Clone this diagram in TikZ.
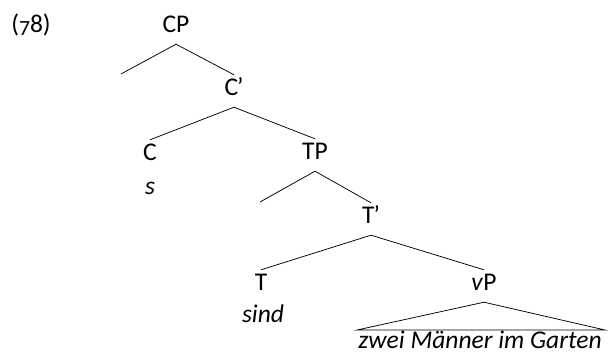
\documentclass[tikz,border=0pt]{standalone}
\usepackage{fontspec}
\setmainfont{Carlito}
\begin{document}
\begin{tikzpicture}[x=1pt,y=1pt,
  cat/.style={inner sep=0pt, minimum height=32pt, text height=0.9em, text depth=0pt, yshift=-3pt, font=\fontsize{25.5}{29}\selectfont},
  word/.style={inner sep=0pt, font=\fontsize{25.5}{29}\selectfont\itshape, text height=0.9em, text depth=0pt, yshift=-3pt},
  branch/.style={draw=black, line width=0.75pt}]
\useasboundingbox (0,0) rectangle (608,354);
\node[cat] (num) at (31,329) {(\raisebox{-0.1em}{\scalebox{0.85}{7}}8)};
\node[cat] (CP) at (176,329) {CP};
\node[cat] (Cbar) at (234,266) {C\kern-1pt’};
\node[cat] (C) at (150,201) {C};
\node[word] (s) at (150,167) {s};
\node[cat] (TP) at (315,202) {TP};
\node[cat] (Tbar) at (371,138) {T\kern-1pt’};
\node[cat] (T) at (261,71) {T};
\node[word] (sind) at (263,39) {sind};
\node[cat] (vP) at (484,71) {\textit{v}P};
\node[word] (phrase) at (480,13) {zwei Männer im Garten};
\coordinate (CPl) at (121,280);
\coordinate (TPl) at (260,152);
\coordinate (bl) at (357,24);
\coordinate (br) at (605,24);
\draw[branch] (CPl) -- (CP.south) -- (Cbar.north);
\draw[branch] (C.north) -- (Cbar.south) -- (TP.north);
\draw[branch] (TPl) -- (TP.south) -- (Tbar.north);
\draw[branch] (T.north) -- (Tbar.south) -- (vP.north);
\draw[branch] (bl) -- (vP.south) -- (br) -- cycle;
\end{tikzpicture}
\end{document}
